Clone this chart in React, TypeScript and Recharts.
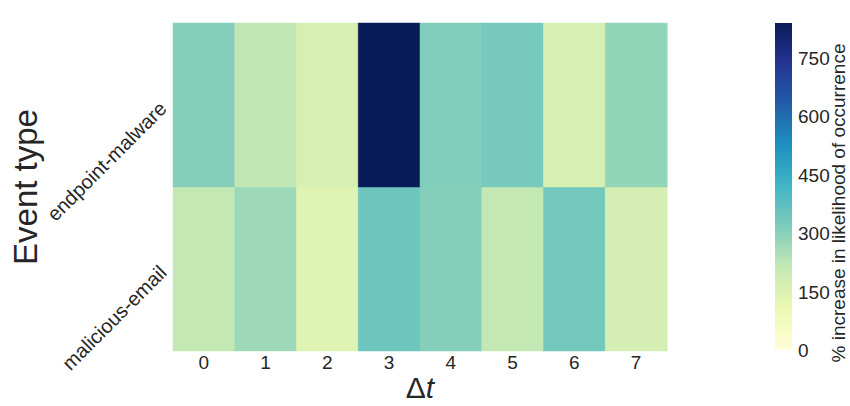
import React from 'react';
import { BarChart, Bar, XAxis, YAxis, Cell, Label } from 'recharts';

// Δt bins on the x axis
const lags = ['0', '1', '2', '3', '4', '5', '6', '7'];
// rows, top to bottom
const eventTypes = ['endpoint-malware', 'malicious-email'];
// % increase in likelihood of occurrence
const endpointMalware = [306, 220, 168, 840, 313, 327, 168, 286];
const maliciousEmail = [214, 271, 143, 348, 306, 214, 337, 174];
const colorbarTicks = [0, 150, 300, 450, 600, 750];
const vmax = 840;

// matplotlib YlGnBu anchor colours
const ylgnbu = ['#ffffd9', '#edf8b1', '#c7e9b4', '#7fcdbb', '#41b6c4', '#1d91c0', '#225ea8', '#253494', '#081d58'];

function hexToRgb(h: string) {
  return [1, 3, 5].map((i) => parseInt(h.slice(i, i + 2), 16));
}

function colorFor(v: number) {
  const t = Math.max(0, Math.min(1, v / vmax)) * (ylgnbu.length - 1);
  const i = Math.min(Math.floor(t), ylgnbu.length - 2);
  const f = t - i;
  const a = hexToRgb(ylgnbu[i]);
  const b = hexToRgb(ylgnbu[i + 1]);
  const c = a.map((x, k) => Math.round(x + (b[k] - x) * f));
  return `rgb(${c[0]},${c[1]},${c[2]})`;
}

const FONT = '"Liberation Sans", Arial, sans-serif';
const TEXT = '#262626';

// each row is one unit tall in a stack; colour carries the value
const heatData = lags.map((lag, i) => ({
  lag,
  email: 1,
  malware: 1,
  emailVal: maliciousEmail[i],
  malwareVal: endpointMalware[i],
}));

const colorbarData = [{ name: 'cb', v: vmax }];

function RowTick(props: any) {
  const { y, payload } = props;
  const label = payload.value > 1 ? eventTypes[0] : eventTypes[1];
  const x = 163;
  return (
    <text
      x={x}
      y={y}
      textAnchor="end"
      dominantBaseline="central"
      transform={`rotate(-45 ${x} ${y})`}
      fontSize={20}
      fontFamily={FONT}
      fill={TEXT}
    >
      {label}
    </text>
  );
}

function LagTick(props: any) {
  const { x, y, payload } = props;
  return (
    <text x={x} y={y} dy={12} textAnchor="middle" fontSize={19} fontFamily={FONT} fill={TEXT}>
      {payload.value}
    </text>
  );
}

function CbTick(props: any) {
  const { x, y, payload } = props;
  return (
    <text x={x} y={y} dy={7} textAnchor="start" fontSize={19} fontFamily={FONT} fill={TEXT}>
      {payload.value}
    </text>
  );
}

function GradientBar(props: any) {
  const { x, y, width, height } = props;
  return (
    <g>
      <defs>
        <linearGradient id="ylgnbu" x1="0" y1="1" x2="0" y2="0">
          {ylgnbu.map((c, i) => (
            <stop key={i} offset={`${(i / (ylgnbu.length - 1)) * 100}%`} stopColor={c} />
          ))}
        </linearGradient>
      </defs>
      <rect x={x} y={y} width={width} height={height} fill="url(#ylgnbu)" />
    </g>
  );
}

export default function App() {
  return (
    <div style={{ position: 'absolute', left: 0, top: 0, width: 850, height: 406, background: '#fff' }}>
      <div style={{ position: 'absolute', left: 0, top: 0 }}>
        <BarChart
          width={700}
          height={406}
          data={heatData}
          margin={{ top: 23, right: 33, bottom: 0, left: 0 }}
          barCategoryGap={0}
          barGap={0}
        >
          <XAxis
            dataKey="lag"
            height={55}
            axisLine={false}
            tickLine={false}
            tickMargin={0}
            tick={<LagTick />}
          >
            <Label
              content={(p: any) => {
                const vb = p.viewBox;
                return (
                  <text
                    x={vb.x + vb.width / 2}
                    y={vb.y + 47}
                    textAnchor="middle"
                    fontSize={30}
                    fontFamily={FONT}
                    fill={TEXT}
                  >
                    Δ<tspan fontStyle="italic">t</tspan>
                  </text>
                );
              }}
            />
          </XAxis>
          <YAxis
            type="number"
            domain={[0, 2]}
            ticks={[0.5, 1.5]}
            width={173}
            axisLine={false}
            tickLine={false}
            tick={<RowTick />}
          >
            <Label
              content={(p: any) => {
                const vb = p.viewBox;
                const cx = vb.x + 25;
                const cy = vb.y + vb.height / 2;
                return (
                  <text
                    x={cx}
                    y={cy}
                    textAnchor="middle"
                    dominantBaseline="central"
                    transform={`rotate(-90 ${cx} ${cy})`}
                    fontSize={33}
                    fontFamily={FONT}
                    fill={TEXT}
                  >
                    Event type
                  </text>
                );
              }}
            />
          </YAxis>
          <Bar dataKey="email" stackId="s" isAnimationActive={false}>
            {heatData.map((d, i) => (
              <Cell key={i} fill={colorFor(d.emailVal)} stroke={colorFor(d.emailVal)} strokeWidth={0.5} />
            ))}
          </Bar>
          <Bar dataKey="malware" stackId="s" isAnimationActive={false}>
            {heatData.map((d, i) => (
              <Cell key={i} fill={colorFor(d.malwareVal)} stroke={colorFor(d.malwareVal)} strokeWidth={0.5} />
            ))}
          </Bar>
        </BarChart>
      </div>
      <div style={{ position: 'absolute', left: 770, top: 0 }}>
        <BarChart
          width={80}
          height={406}
          data={colorbarData}
          margin={{ top: 23, right: 0, bottom: 56, left: 5 }}
          barCategoryGap={0}
        >
          <XAxis dataKey="name" hide />
          <YAxis
            orientation="right"
            type="number"
            domain={[0, vmax]}
            ticks={colorbarTicks}
            width={58}
            axisLine={false}
            tickLine={false}
            tickMargin={0}
            tick={<CbTick />}
            allowDataOverflow
          >
            <Label
              content={(p: any) => {
                const vb = p.viewBox;
                const cx = vb.x + 46;
                const cy = 203;
                return (
                  <text
                    x={cx}
                    y={cy}
                    textAnchor="middle"
                    dominantBaseline="central"
                    transform={`rotate(-90 ${cx} ${cy})`}
                    fontSize={19}
                    fontFamily={FONT}
                    fill={TEXT}
                  >
                    % increase in likelihood of occurrence
                  </text>
                );
              }}
            />
          </YAxis>
          <Bar dataKey="v" shape={<GradientBar />} isAnimationActive={false} />
        </BarChart>
      </div>
    </div>
  );
}
